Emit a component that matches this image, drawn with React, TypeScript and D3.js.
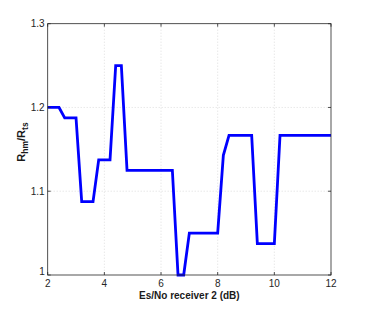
import React, { useEffect, useRef } from "react";
import * as d3 from "d3";

const xValues = [
  2.0, 2.2, 2.4, 2.6, 2.8, 3.0, 3.2, 3.4, 3.6, 3.8, 4.0, 4.2, 4.4, 4.6, 4.8,
  5.0, 5.2, 5.4, 5.6, 5.8, 6.0, 6.2, 6.4, 6.6, 6.8, 7.0, 7.2, 7.4, 7.6, 7.8,
  8.0, 8.2, 8.4, 8.6, 8.8, 9.0, 9.2, 9.4, 9.6, 9.8, 10.0, 10.2, 10.4, 10.6,
  10.8, 11.0, 11.2, 11.4, 11.6, 11.8, 12.0,
];
const ratioValues = [
  1.2, 1.2, 1.2, 1.1875, 1.1875, 1.1875, 1.0875, 1.0875, 1.0875, 1.1375,
  1.1375, 1.1375, 1.25, 1.25, 1.125, 1.125, 1.125, 1.125, 1.125, 1.125, 1.125,
  1.125, 1.125, 1.0, 1.0, 1.05, 1.05, 1.05, 1.05, 1.05, 1.05, 1.1429, 1.1667,
  1.1667, 1.1667, 1.1667, 1.1667, 1.0375, 1.0375, 1.0375, 1.0375, 1.1667,
  1.1667, 1.1667, 1.1667, 1.1667, 1.1667, 1.1667, 1.1667, 1.1667, 1.1667,
];
const xTicks = [2, 4, 6, 8, 10, 12];
const yTicks = [1, 1.1, 1.2, 1.3];

export default function App() {
  const svgRef = useRef<SVGSVGElement | null>(null);

  useEffect(() => {
    const width = 366;
    const height = 310;
    const plot = { left: 47.7, right: 331, top: 23.7, bottom: 275 };
    const font = "'Liberation Sans', Arial, Helvetica, sans-serif";

    const svg = d3.select(svgRef.current);
    svg.selectAll("*").remove();
    svg.attr("width", width).attr("height", height);

    svg.append("rect").attr("width", width).attr("height", height).attr("fill", "#fff");

    const x = d3.scaleLinear().domain([2, 12]).range([plot.left, plot.right]);
    const y = d3.scaleLinear().domain([1, 1.3]).range([plot.bottom, plot.top]);

    // grid
    const grid = svg.append("g").attr("stroke", "#c8c8c8").attr("stroke-width", 0.6).attr("stroke-dasharray", "1,2");
    xTicks.slice(1, -1).forEach((t) => {
      grid.append("line").attr("x1", x(t)).attr("x2", x(t)).attr("y1", plot.top).attr("y2", plot.bottom);
    });
    yTicks.slice(1, -1).forEach((t) => {
      grid.append("line").attr("x1", plot.left).attr("x2", plot.right).attr("y1", y(t)).attr("y2", y(t));
    });

    // line
    const pts = xValues.map((v, i) => [v, ratioValues[i]] as [number, number]);
    const line = d3
      .line<[number, number]>()
      .x((d) => x(d[0]))
      .y((d) => y(d[1]));
    svg
      .append("path")
      .datum(pts)
      .attr("d", line)
      .attr("fill", "none")
      .attr("stroke", "#0000ff")
      .attr("stroke-width", 2.8)
      .attr("stroke-linejoin", "miter");

    // box
    svg
      .append("rect")
      .attr("x", plot.left)
      .attr("y", plot.top)
      .attr("width", plot.right - plot.left)
      .attr("height", plot.bottom - plot.top)
      .attr("fill", "none")
      .attr("stroke", "#262626")
      .attr("stroke-width", 0.8);

    // ticks (inside, on all sides)
    const ticks = svg.append("g").attr("stroke", "#262626").attr("stroke-width", 0.8);
    xTicks.forEach((t) => {
      ticks.append("line").attr("x1", x(t)).attr("x2", x(t)).attr("y1", plot.bottom).attr("y2", plot.bottom - 3);
      ticks.append("line").attr("x1", x(t)).attr("x2", x(t)).attr("y1", plot.top).attr("y2", plot.top + 3);
    });
    yTicks.forEach((t) => {
      ticks.append("line").attr("x1", plot.left).attr("x2", plot.left + 3).attr("y1", y(t)).attr("y2", y(t));
      ticks.append("line").attr("x1", plot.right).attr("x2", plot.right - 3).attr("y1", y(t)).attr("y2", y(t));
    });

    // tick labels
    svg
      .selectAll(".xt")
      .data(xTicks)
      .enter()
      .append("text")
      .attr("x", (d) => x(d))
      .attr("y", plot.bottom + 12)
      .attr("text-anchor", "middle")
      .style("font-family", font)
      .style("font-size", "10px")
      .attr("fill", "#262626")
      .text((d) => String(d));

    svg
      .selectAll(".yt")
      .data(yTicks)
      .enter()
      .append("text")
      .attr("x", plot.left - 3)
      .attr("y", (d) => (d === 1 ? y(d) : y(d) + 3.5))
      .attr("text-anchor", "end")
      .style("font-family", font)
      .style("font-size", "10px")
      .attr("fill", "#262626")
      .text((d) => (d === 1 ? "1" : d.toFixed(1)));

    // axis labels
    svg
      .append("text")
      .attr("x", (plot.left + plot.right) / 2)
      .attr("y", plot.bottom + 24)
      .attr("text-anchor", "middle")
      .style("font-family", font)
      .style("font-size", "10px")
      .style("font-weight", "bold")
      .attr("fill", "#1a1a1a")
      .text("Es/No receiver 2 (dB)");

    const yl = svg
      .append("text")
      .attr("transform", `translate(25,142) rotate(-90)`)
      .attr("text-anchor", "middle")
      .style("font-family", font)
      .style("font-size", "11px")
      .style("font-weight", "bold")
      .attr("fill", "#1a1a1a");
    yl.append("tspan").text("R");
    yl.append("tspan").attr("dy", 3).style("font-size", "8.5px").text("hm");
    yl.append("tspan").attr("dy", -3).text("/R");
    yl.append("tspan").attr("dy", 3).style("font-size", "8.5px").text("ts");
  }, []);

  return <svg ref={svgRef} style={{ position: "absolute", left: 0, top: 0 }}></svg>;
}
